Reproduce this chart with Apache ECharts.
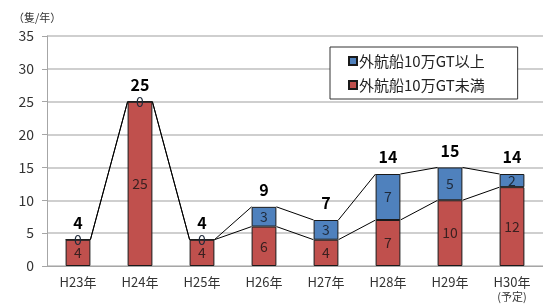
<!DOCTYPE html>
<html>
<head>
<meta charset="utf-8">
<script src="https://cdn.jsdelivr.net/npm/echarts@6/dist/echarts.min.js"></script>
<style>
  html, body { margin: 0; padding: 0; background: #fff; }
  #chart { width: 543px; height: 306px; }
</style>
</head>
<body>
<div id="chart"></div>
<script>
// 年度
const years = ['H23年', 'H24年', 'H25年', 'H26年', 'H27年', 'H28年', 'H29年', 'H30年\n{s|(予定)}'];
// 外航船10万GT未満
const smallShips = [4, 25, 4, 6, 4, 7, 10, 12];
// 外航船10万GT以上
const largeShips = [0, 0, 0, 3, 3, 7, 5, 2];
const totals = smallShips.map((v, i) => v + largeShips[i]);

const font = '"Noto Sans CJK JP", sans-serif';

// 棒と棒をつなぐ区分線 (Excel の series lines)
function seriesLine(values) {
  const data = [];
  for (let i = 0; i < values.length - 1; i++) {
    data.push([i, values[i], values[i + 1]]);
  }
  return {
    type: 'custom',
    data: data,
    z: 1,
    silent: true,
    renderItem: function (params, api) {
      const i = api.value(0);
      const half = api.size([1, 0])[0] * 0.4 / 2;
      const p1 = api.coord([i, api.value(1)]);
      const p2 = api.coord([i + 1, api.value(2)]);
      return {
        type: 'line',
        shape: { x1: p1[0] + half, y1: p1[1], x2: p2[0] - half, y2: p2[1] },
        style: { stroke: '#000', lineWidth: 1 }
      };
    }
  };
}

const chart = echarts.init(document.getElementById('chart'));

const option = {
  animation: false,
  textStyle: { fontFamily: font },
  title: {
    text: '（隻/年）',
    left: 8,
    top: 7,
    textStyle: { fontSize: 11, fontWeight: 'normal', color: '#333', fontFamily: font }
  },
  legend: {
    data: ['外航船10万GT以上', '外航船10万GT未満'],
    orient: 'vertical',
    left: 330,
    top: 47,
    backgroundColor: '#fff',
    borderColor: '#333',
    borderWidth: 1,
    borderRadius: 0,
    padding: [6, 33, 6, 18],
    itemGap: 8,
    itemWidth: 8,
    itemHeight: 8,
    icon: 'rect',
    textStyle: { fontSize: 15, lineHeight: 16, color: '#222', fontFamily: font, padding: [0, 0, 0, -3] }
  },
  grid: { left: 47, right: -10, top: 36, bottom: 40 },
  xAxis: {
    type: 'category',
    data: years,
    axisLine: { lineStyle: { color: '#a6a6a6' } },
    axisTick: { lineStyle: { color: '#a6a6a6' } },
    axisLabel: {
      interval: 0,
      fontSize: 13,
      color: '#333',
      margin: 9,
      lineHeight: 15,
      rich: { s: { fontSize: 11, color: '#333', lineHeight: 13 } }
    }
  },
  yAxis: {
    type: 'value',
    min: 0,
    max: 35,
    interval: 5,
    axisLine: { show: true, lineStyle: { color: '#a6a6a6' } },
    axisTick: { show: true, length: 5, lineStyle: { color: '#a6a6a6' } },
    axisLabel: { fontSize: 14, color: '#333', margin: 13 },
    splitLine: { lineStyle: { color: '#bfbfbf', width: 1.5 } }
  },
  series: [
    {
      name: '外航船10万GT未満',
      type: 'bar',
      stack: 'ships',
      barWidth: '40%',
      data: smallShips,
      itemStyle: { color: '#c0504d', borderColor: '#1a1a1a', borderWidth: 1 },
      label: { show: true, position: 'inside', fontSize: 14, color: '#3a2020' },
      z: 2
    },
    {
      name: '外航船10万GT以上',
      type: 'bar',
      stack: 'ships',
      barWidth: '40%',
      data: largeShips,
      itemStyle: { color: '#4f81bd', borderColor: '#1a1a1a', borderWidth: 1 },
      label: { show: true, position: 'inside', fontSize: 14, color: '#1f2a3a' },
      z: 2
    },
    {
      name: '合計',
      type: 'bar',
      stack: 'ships',
      barWidth: '40%',
      data: totals.map(() => 0),
      itemStyle: { color: 'transparent', borderWidth: 0 },
      label: {
        show: true,
        position: 'top',
        distance: 9,
        fontSize: 16,
        fontWeight: 'bold',
        color: '#000',
        formatter: p => totals[p.dataIndex]
      },
      z: 3
    },
    seriesLine(smallShips),
    seriesLine(totals)
  ]
};

chart.setOption(option);
</script>
</body>
</html>
